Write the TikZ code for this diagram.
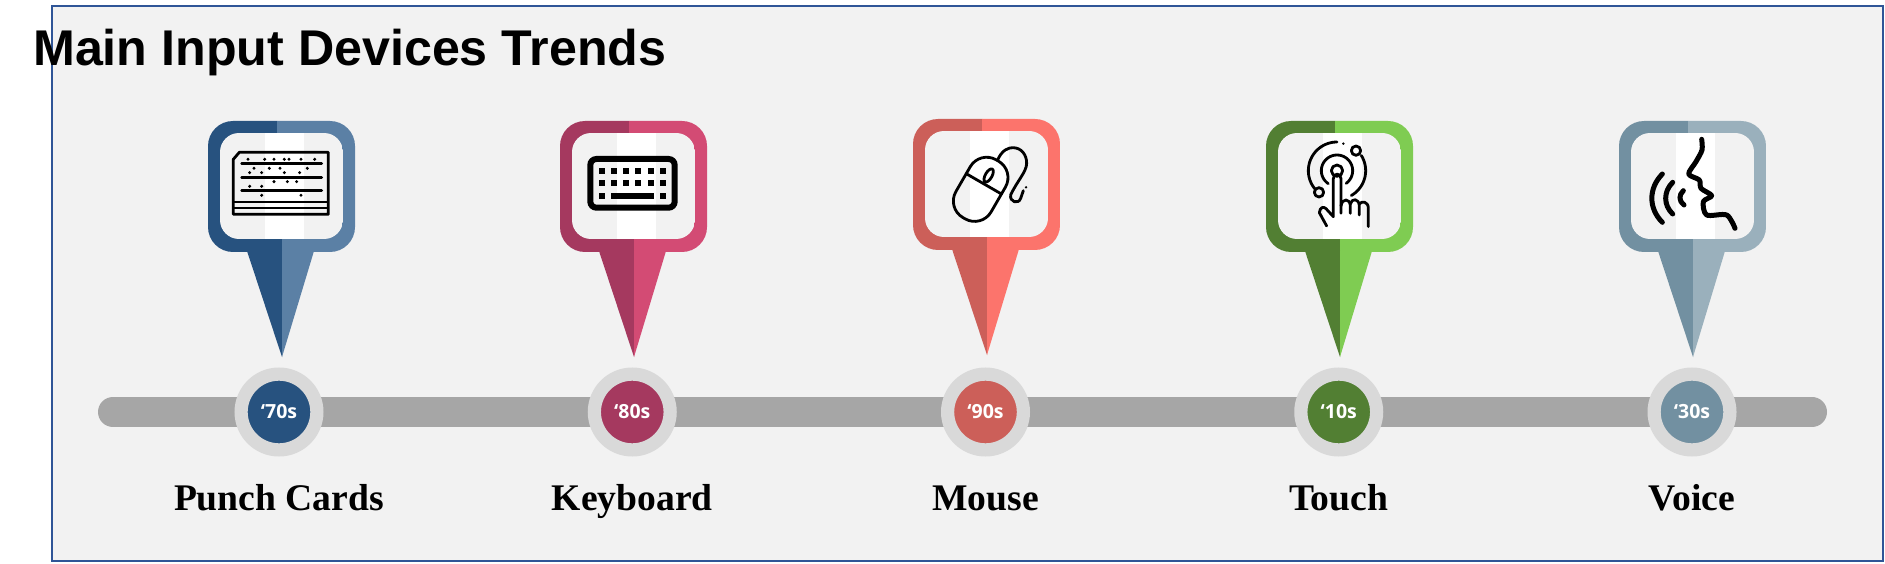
\documentclass[tikz,border=0pt]{standalone}
\usepackage{fontspec}
\setmainfont{Liberation Serif}
\newfontfamily\titlefont{Liberation Sans}
\newfontfamily\yearfont{Open Sans}
\usepackage{tikz}

\definecolor{panel}{HTML}{F2F2F2}
\definecolor{frame}{HTML}{2F5597}
\definecolor{bar}{HTML}{A6A6A6}
\definecolor{ring}{HTML}{D9D9D9}
\definecolor{cards dark}{HTML}{27527F}
\definecolor{cards light}{HTML}{5B80A5}
\definecolor{keys dark}{HTML}{A5395F}
\definecolor{keys light}{HTML}{D34B74}
\definecolor{mouse dark}{HTML}{CC5F59}
\definecolor{mouse light}{HTML}{FC746C}
\definecolor{touch dark}{HTML}{527F33}
\definecolor{touch light}{HTML}{7FCC52}
\definecolor{voice dark}{HTML}{7290A1}
\definecolor{voice light}{HTML}{9AB0BC}

% left edge, top edge, dark half, light half
\newcommand{\mappin}[4]{
  \begin{scope}[shift={(#1,#2)}]
    \begin{scope}
      \clip[rounded corners=25pt] (0,0) rectangle (147,131);
      \fill[#3] (0,0) -- (69,0) -- (69,60) -- (74,60) -- (74,131) -- (0,131) -- cycle;
      \fill[#4] (69,0) -- (147,0) -- (147,131) -- (74,131) -- (74,60) -- (69,60) -- cycle;
    \end{scope}
    \fill[#3] (39,130) -- (74,130) -- (74,236) -- cycle;
    \fill[#4] (74,130) -- (106,130) -- (74,236) -- cycle;
    \begin{scope}
      \clip[rounded corners=19pt] (12,12) rectangle (135,118);
      \fill[panel] (12,12) rectangle (135,118);
      \fill[white] (57,12) rectangle (96,118);
    \end{scope}
  \end{scope}}

\begin{document}
\begin{tikzpicture}[x=1pt,y=-1pt,node distance=353.25pt,
  year node/.style={circle,minimum size=75.8pt,inner sep=0pt,draw=ring,line width=13.2pt,
    text=white,font=\yearfont\bfseries\fontsize{19.5}{20}\selectfont},
  name node/.style={node distance=85.7pt,inner sep=0pt,text height=26pt,text depth=0pt,
    font=\bfseries\fontsize{37.6}{38}\selectfont},
  icon line/.style={line width=2.8pt,line cap=round,line join=round},
  voice line/.style={line width=5pt,line cap=round,line join=round}]

  \useasboundingbox (0,0) rectangle (1885,564);
  \draw[frame,fill=panel,line width=2pt] (52,6) rectangle (1883,561);
  \node[anchor=base west,inner sep=0pt,font=\titlefont\bfseries\fontsize{50.2}{51}\selectfont]
    (title) at (33,66) {Main Input Devices Trends};

  \coordinate (bar left) at (113,412);
  \coordinate (bar right) at (1812,412);
  \draw[bar,line width=30pt,line cap=round] (bar left) -- (bar right);

  \mappin{208}{121}{cards dark}{cards light}
  \mappin{560}{121}{keys dark}{keys light}
  \mappin{913}{119}{mouse dark}{mouse light}
  \mappin{1266}{121}{touch dark}{touch light}
  \mappin{1619}{121}{voice dark}{voice light}

  \node[year node,fill=cards dark] (y70) at (279,412) {‘70s};
  \node[year node,fill=keys dark] (y80) [right of=y70] {‘80s};
  \node[year node,fill=mouse dark] (y90) [right of=y80] {‘90s};
  \node[year node,fill=touch dark] (y10) [right of=y90] {‘10s};
  \node[year node,fill=voice dark] (y30) [right of=y10] {‘30s};

  \node[name node] (cards) [below of=y70] {Punch Cards};
  \node[name node] (keys) [below of=y80] {Keyboard};
  \node[name node] (mouse) [below of=y90] {Mouse};
  \node[name node] (touch) [below of=y10] {Touch};
  \node[name node] (voice) [below of=y30] {Voice};

  % punch cards
  \begin{scope}[shift={(180,100)},scale=1/3]
    \draw[icon line] (160,178) -- (178,157) -- (445,157) -- (445,343) -- (160,343) -- cycle;
    \draw[icon line] (185,190) -- (425,190) (185,232) -- (425,232) (185,272) -- (425,272);
    \draw[line width=2pt] (160,306) -- (445,306) (160,325) -- (445,325);
    \foreach \a/\b in {204/178,254/178,282/178,313/178,327/178,363/178,404/178,
      222/205,268/205,300/205,382/205,209/218,245/218,313/218,359/218,
      282/245,322/245,350/245,209/259,245/259,245/286,363/286}
      \fill (\a,\b) circle[radius=5];
  \end{scope}

  % keyboard
  \begin{scope}[shift={(540,100)},scale=1/3]
    \draw[line width=6pt,rounded corners=6pt] (151,177) rectangle (404,323);
    \foreach \a in {186,222,259,295,332,368}
      \foreach \b in {214,250}
        \fill (\a-9,\b-9) rectangle (\a+9,\b+9);
    \fill (177,278) rectangle (195,296);
    \fill (359,278) rectangle (377,296);
    \fill (214,278) rectangle (341,296);
  \end{scope}

  % mouse
  \begin{scope}[shift={(890,100)},scale=1/3]
    \begin{scope}[shift={(272,268)},rotate=-30]
      \draw[icon line,rounded corners=19pt] (-61,-100) rectangle (61,100);
      \draw[icon line] (-61,-19) -- (61,-19);
      \draw[icon line] (0,-48) ellipse[x radius=10,y radius=22];
    \end{scope}
    \draw[icon line] (322,182) .. controls (335,150) and (355,143) .. (368,143)
      .. controls (395,143) and (410,165) .. (410,190)
      .. controls (410,215) and (380,245) .. (362,285)
      .. controls (358,305) and (385,315) .. (392,295) -- (400,272);
    \fill (408,262) circle[radius=4];
  \end{scope}

  % touch
  \begin{scope}[shift={(1240,100)},scale=1/3]
    \draw[icon line] (291,212) circle[radius=17];
    \draw[icon line] plot[domain=-236:54,samples=40] ({291+47*cos(\x)},{212+47*sin(\x)});
    \draw[icon line] plot[domain=-219:-90,samples=30] ({291+86*cos(\x)},{212+86*sin(\x)});
    \draw[icon line] plot[domain=-32:60,samples=20] ({291+86*cos(\x)},{212+86*sin(\x)});
    \draw[icon line] (237,277) circle[radius=14];
    \draw[icon line] (348,152) circle[radius=14];
    \fill (310,131) circle[radius=4];
    \draw[icon line] (260,378) -- (238,338) .. controls (240,322) and (250,318) .. (258,326)
      -- (280,350) -- (280,236) .. controls (280,218) and (303,218) .. (303,236) -- (303,340);
    \draw[icon line] (303,318) .. controls (306,294) and (330,294) .. (331,318) -- (331,340);
    \draw[icon line] (331,312) .. controls (335,294) and (357,294) .. (358,318) -- (358,345);
    \draw[icon line] (358,312) .. controls (365,302) and (385,304) .. (385,325) -- (385,380);
  \end{scope}

  % voice
  \begin{scope}[shift={(1600,100)},scale=1/3]
    \draw[voice line] plot[smooth,tension=0.5] coordinates {(305,118) (306,150) (288,185)
      (266,222) (298,240) (303,265) (335,287) (310,305) (320,345) (380,345) (405,385)};
    \draw[voice line] (187,222) .. controls (145,265) and (145,325) .. (187,367);
    \draw[voice line] (218,247) .. controls (190,275) and (190,315) .. (218,342);
    \draw[voice line] (250,272) .. controls (236,285) and (236,303) .. (252,315);
  \end{scope}

\end{tikzpicture}
\end{document}
